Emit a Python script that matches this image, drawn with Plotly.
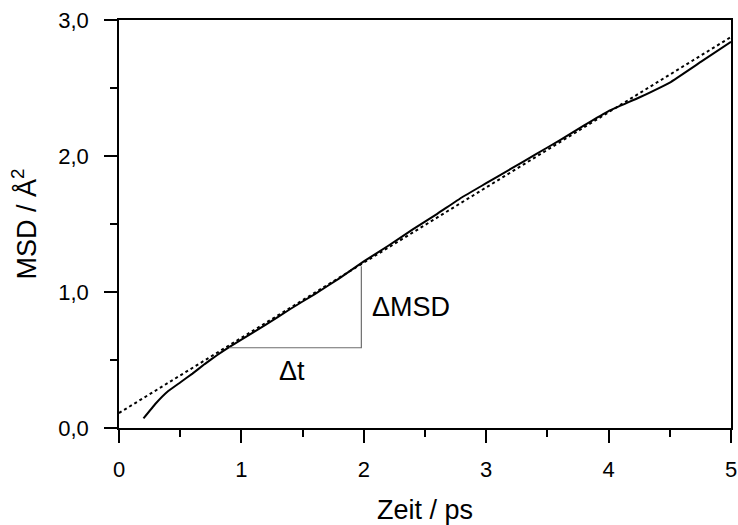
import plotly.graph_objects as go

# MSD data (solid)
time_ps = [0.2, 0.3, 0.4, 0.5, 0.6, 0.7, 0.8, 0.9, 1.0, 1.2, 1.4, 1.6, 1.8, 2.0,
           2.2, 2.4, 2.6, 2.8, 3.0, 3.2, 3.4, 3.6, 3.8, 4.0, 4.25, 4.5, 4.75, 5.0]
msd = [0.07, 0.18, 0.27, 0.335, 0.40, 0.47, 0.535, 0.595, 0.65, 0.76, 0.875, 0.985,
       1.10, 1.225, 1.34, 1.46, 1.575, 1.695, 1.80, 1.905, 2.01, 2.115, 2.225, 2.33,
       2.43, 2.54, 2.69, 2.84]

# linear fit (dotted)
fit_x = [0.0, 5.0]
fit_y = [0.11, 2.875]

# slope triangle
tri_x = [0.9, 1.98, 1.98]
tri_y = [0.59, 0.59, 1.19]

x_ticks = [0, 1, 2, 3, 4, 5]
x_labels = ["0", "1", "2", "3", "4", "5"]
y_ticks = [0, 1, 2, 3]
y_labels = ["0,0", "1,0", "2,0", "3,0"]

FONT = "Liberation Sans, Arial, sans-serif"

fig = go.Figure()
fig.add_trace(go.Scatter(x=fit_x, y=fit_y, mode="lines",
                         line=dict(color="black", width=2, dash="dot"),
                         showlegend=False, hoverinfo="skip"))
fig.add_trace(go.Scatter(x=time_ps, y=msd, mode="lines",
                         line=dict(color="black", width=2, shape="spline", smoothing=0.3),
                         showlegend=False))
fig.add_trace(go.Scatter(x=tri_x, y=tri_y, mode="lines",
                         line=dict(color="#6e6e6e", width=1.2),
                         showlegend=False, hoverinfo="skip"))

fig.add_annotation(x=2.05, y=0.89, text="ΔMSD", showarrow=False,
                   xanchor="left", yanchor="middle",
                   font=dict(family=FONT, size=27, color="black"))
fig.add_annotation(x=1.41, y=0.42, text="Δt", showarrow=False,
                   xanchor="center", yanchor="middle",
                   font=dict(family=FONT, size=27, color="black"))

axis_common = dict(
    showgrid=False, zeroline=False,
    showline=True, linecolor="black", linewidth=1.5, mirror=True,
    ticks="outside", ticklen=13, tickwidth=1.5, tickcolor="black",
    tickfont=dict(family=FONT, size=22, color="black"),
    ticklabeloverflow="allow",
)

fig.update_xaxes(
    range=[0, 5], tickvals=x_ticks, ticktext=x_labels,
    minor=dict(ticks="outside", ticklen=7, tickwidth=1.5, tickcolor="black", dtick=0.5, tick0=0),
    title=dict(text="Zeit / ps", font=dict(family=FONT, size=27, color="black"), standoff=21),
    ticklabelstandoff=8,
    **axis_common,
)
fig.update_yaxes(
    range=[0, 3], tickvals=y_ticks, ticktext=y_labels,
    minor=dict(ticks="outside", ticklen=7, tickwidth=1.5, tickcolor="black", dtick=0.5, tick0=0),
    title=dict(text="MSD / Å<sup>2</sup>", font=dict(family=FONT, size=27, color="black"), standoff=14),
    ticklabelstandoff=11,
    **axis_common,
)

fig.update_layout(
    width=738, height=525,
    margin=dict(l=119, r=7, t=20, b=97, autoexpand=False),
    plot_bgcolor="white", paper_bgcolor="white",
    font=dict(family=FONT, color="black"),
)

# remove the default 8px page margin so the figure sits at the window origin
fig.write_html("out.html", config={"displayModeBar": False},
               post_script="document.body.style.margin='0';document.body.style.overflow='hidden';")
